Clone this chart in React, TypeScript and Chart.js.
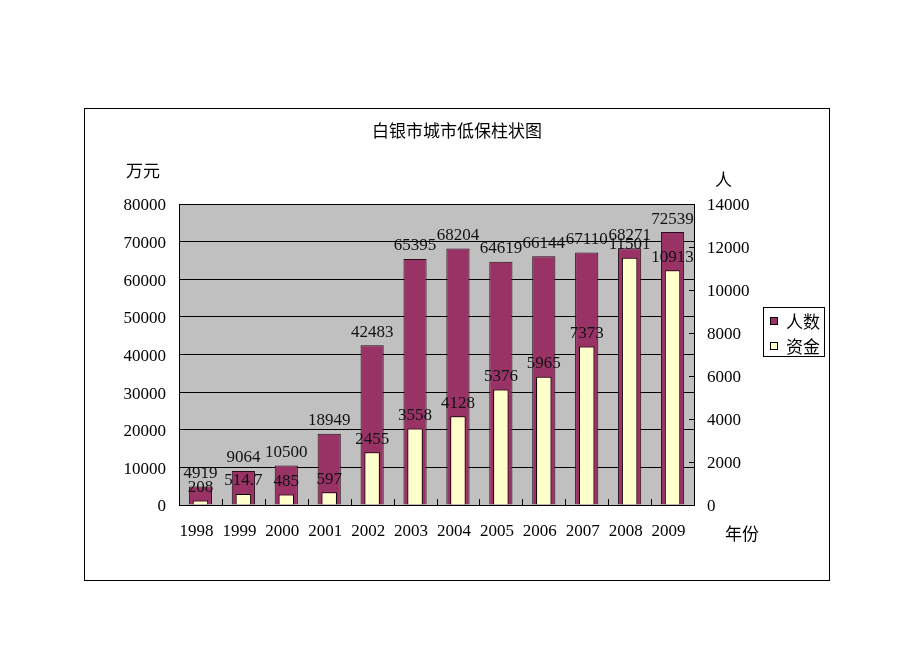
import React, { useEffect, useRef } from "react";
import { Chart, registerables } from "chart.js";

Chart.register(...registerables);

const TITLE = "白银市城市低保柱状图";
const LEFT_AXIS_TITLE = "万元";
const RIGHT_AXIS_TITLE = "人";
const X_AXIS_TITLE = "年份";
const YEARS = ["1998", "1999", "2000", "2001", "2002", "2003", "2004", "2005", "2006", "2007", "2008", "2009"];
const PEOPLE_LABEL = "人数";
const PEOPLE = [4919, 9064, 10500, 18949, 42483, 65395, 68204, 64619, 66144, 67110, 68271, 72539];
const FUNDS_LABEL = "资金";
const FUNDS = [208, 514.7, 485, 597, 2455, 3558, 4128, 5376, 5965, 7373, 11501, 10913];
const LEFT_MAX = 80000;
const LEFT_STEP = 10000;
const RIGHT_MAX = 14000;
const RIGHT_STEP = 2000;

const MAROON = "#993366";
const CREAM = "#FFFFCC";
const SERIF = "'Liberation Serif', 'Times New Roman', serif";
const CJK = "'Noto Sans CJK SC', 'Noto Sans', sans-serif";

const decorPlugin = {
  id: "decor",
  beforeDraw(chart: any) {
    const { ctx, chartArea } = chart;
    ctx.save();
    ctx.fillStyle = "#ffffff";
    ctx.fillRect(0, 0, chart.width, chart.height);
    ctx.fillStyle = "#C0C0C0";
    ctx.fillRect(chartArea.left, chartArea.top, chartArea.right - chartArea.left, chartArea.bottom - chartArea.top);
    ctx.restore();
  },
  afterDatasetsDraw(chart: any) {
    const { ctx } = chart;
    ctx.save();
    ctx.font = `17px ${SERIF}`;
    ctx.fillStyle = "#111";
    ctx.textAlign = "center";
    ctx.textBaseline = "middle";
    chart.data.datasets.forEach((ds: any, di: number) => {
      const meta = chart.getDatasetMeta(di);
      meta.data.forEach((el: any, i: number) => {
        ctx.fillText(String(ds.data[i]), el.x, el.y - 13);
      });
    });
    ctx.restore();
  },
  afterDraw(chart: any) {
    const { ctx, chartArea } = chart;
    const xs = chart.scales.x;
    const y1 = chart.scales.y1;
    ctx.save();
    // outer frame
    ctx.strokeStyle = "#000";
    ctx.lineWidth = 1;
    ctx.strokeRect(84.5, 108.5, 745, 472);
    // plot frame
    ctx.strokeRect(chartArea.left + 0.5, chartArea.top + 0.5, chartArea.right - chartArea.left, chartArea.bottom - chartArea.top);
    // inward ticks on right axis
    ctx.beginPath();
    for (let v = 0; v <= RIGHT_MAX; v += RIGHT_STEP) {
      const y = Math.round(y1.getPixelForValue(v)) + 0.5;
      ctx.moveTo(chartArea.right - 5, y);
      ctx.lineTo(chartArea.right, y);
    }
    // inward ticks on x axis at category boundaries
    const n = YEARS.length;
    const w = (chartArea.right - chartArea.left) / n;
    for (let i = 1; i < n; i++) {
      const x = Math.round(xs.getPixelForValue(i) - w / 2) + 0.5;
      ctx.moveTo(x, chartArea.bottom);
      ctx.lineTo(x, chartArea.bottom - 6);
    }
    ctx.stroke();

    // category labels
    ctx.fillStyle = "#000";
    ctx.font = `17px ${SERIF}`;
    ctx.textAlign = "center";
    ctx.textBaseline = "middle";
    YEARS.forEach((yr, i) => {
      ctx.fillText(yr, xs.getPixelForValue(i) - 4, chartArea.bottom + 27);
    });

    // title
    ctx.font = `17px ${CJK}`;
    ctx.textBaseline = "middle";
    ctx.textAlign = "center";
    ctx.fillText(TITLE, 457, 131);
    ctx.textAlign = "left";
    ctx.fillText(LEFT_AXIS_TITLE, 126, 171);
    ctx.fillText(RIGHT_AXIS_TITLE, 715, 180);
    ctx.fillText(X_AXIS_TITLE, 725, 534);

    // legend
    ctx.strokeStyle = "#000";
    ctx.strokeRect(763.5, 307.5, 61, 49);
    const items = [
      { label: PEOPLE_LABEL, color: MAROON },
      { label: FUNDS_LABEL, color: CREAM },
    ];
    items.forEach((it, i) => {
      const cy = 321 + i * 25;
      ctx.fillStyle = it.color;
      ctx.fillRect(770, cy - 4, 8, 8);
      ctx.strokeRect(770.5, cy - 3.5, 7, 7);
      ctx.fillStyle = "#000";
      ctx.fillText(it.label, 786, cy + 1);
    });
    ctx.restore();
  },
};

export default function App() {
  const ref = useRef<HTMLCanvasElement | null>(null);
  useEffect(() => {
    if (!ref.current) return;
    const chart = new Chart(ref.current, {
      type: "bar",
      data: {
        labels: YEARS,
        datasets: [
          {
            label: PEOPLE_LABEL,
            data: PEOPLE,
            yAxisID: "y",
            backgroundColor: MAROON,
            borderColor: "#2a0a1a",
            borderWidth: 1,
            categoryPercentage: 1,
            barPercentage: 0.54,
            grouped: false,
            order: 1,
          } as any,
          {
            label: FUNDS_LABEL,
            data: FUNDS,
            yAxisID: "y1",
            backgroundColor: CREAM,
            borderColor: "#000",
            borderWidth: 1,
            categoryPercentage: 1,
            barPercentage: 0.36,
            grouped: false,
            order: 0,
          } as any,
        ],
      },
      options: {
        responsive: false,
        animation: false,
        layout: { padding: { left: 100, right: 100, top: 204, bottom: 100 } },
        plugins: { legend: { display: false }, title: { display: false }, tooltip: { enabled: false } },
        scales: {
          x: {
            grid: { display: false, drawTicks: false },
            border: { display: true, color: "#000", width: 1 },
            ticks: { display: false },
            afterFit: (s: any) => { s.height = 46; },
          },
          y: {
            position: "left",
            min: 0,
            max: LEFT_MAX,
            grid: { color: "#000", lineWidth: 1, drawTicks: false },
            border: { display: true, color: "#000", width: 1 },
            ticks: { stepSize: LEFT_STEP, font: { family: SERIF, size: 17 }, color: "#000", padding: 13, labelOffset: 2, callback: (v: any) => String(v) },
            afterFit: (s: any) => { s.width = 79; },
          },
          y1: {
            position: "right",
            min: 0,
            max: RIGHT_MAX,
            grid: { drawOnChartArea: false, drawTicks: false },
            border: { display: true, color: "#000", width: 1 },
            ticks: { stepSize: RIGHT_STEP, font: { family: SERIF, size: 17 }, color: "#000", padding: 13, labelOffset: 2, callback: (v: any) => String(v) },
            afterFit: (s: any) => { s.width = 126; },
          },
        },
      },
      plugins: [decorPlugin],
    });
    return () => chart.destroy();
  }, []);
  return (
    <div style={{ position: "fixed", left: 0, top: 0, width: 920, height: 651, background: "#fff" }}>
      <canvas ref={ref} width={920} height={651} style={{ display: "block" }} />
    </div>
  );
}
